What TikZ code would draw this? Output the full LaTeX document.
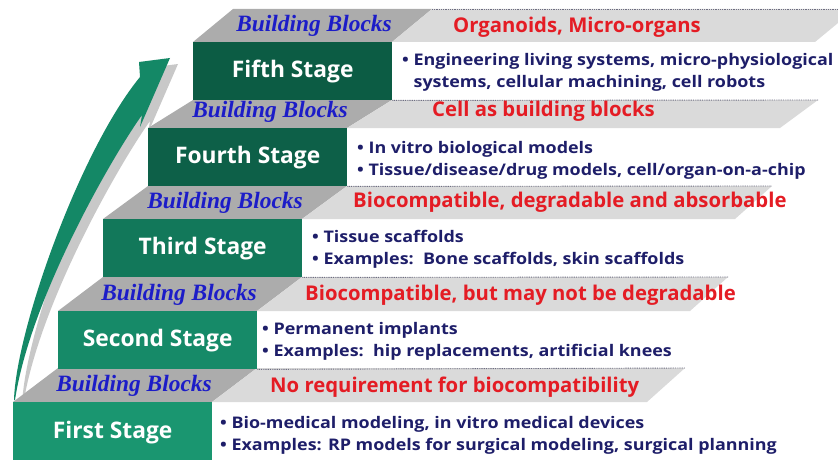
\documentclass[tikz,border=0pt]{standalone}
\usepackage{fontspec}
\setmainfont{Open Sans}
\newfontfamily\widefont[FakeStretch=1.12]{Open Sans}
\newfontfamily\blockfont{Liberation Serif}
\begin{document}
\begin{tikzpicture}[x=1pt,y=-1pt,
  stagebox/.style={minimum width=199pt,minimum height=58pt,inner sep=0pt,anchor=north west,
    text=white,font=\bfseries\fontsize{22.8}{22.8}\selectfont},
  bbtext/.style={text=bbblue,font=\blockfont\bfseries\itshape\fontsize{23.4}{23.4}\selectfont,inner sep=0pt},
  reqtext/.style={text=reqred,font=\bfseries\fontsize{20.3}{20.3}\selectfont,anchor=west,inner sep=0pt},
  bullets/.style={text=navy,font=\widefont\bfseries\fontsize{16}{22}\selectfont,anchor=west,align=left,inner sep=0pt},
  darkband/.style={fill=bandgrey},
  lightband/.style={fill=bandlight},
  dotline/.style={draw=dotgrey,line width=0.9pt,dash pattern=on 0.9pt off 0.9pt}
]
\definecolor{bbblue}{RGB}{28,28,200}
\definecolor{reqred}{RGB}{228,28,36}
\definecolor{navy}{RGB}{30,30,105}
\definecolor{bandgrey}{RGB}{172,172,172}
\definecolor{bandlight}{RGB}{218,218,218}
\definecolor{dotgrey}{RGB}{110,110,130}
\definecolor{gA}{RGB}{26,150,112}
\definecolor{gB}{RGB}{22,138,104}
\definecolor{gC}{RGB}{18,120,90}
\definecolor{gD}{RGB}{13,96,72}
\definecolor{gE}{RGB}{12,92,68}
\definecolor{arrowgreen}{RGB}{20,136,102}
\definecolor{shadowgrey}{RGB}{200,200,200}

\useasboundingbox (0,0) rectangle (838,460);
\clip (0,0) rectangle (838,460);

% curved progress arrow with its shadow
\begin{scope}[shift={(8,6)}]
\fill[shadowgrey] (14,400) .. controls (16,330) and (80,150) .. (140,77)
  -- (139,62) -- (170,58) -- (140,127) -- (142,115)
  .. controls (110,160) and (30,300) .. (15,400) -- cycle;
\end{scope}
\fill[arrowgreen] (14,400) .. controls (16,330) and (80,150) .. (140,77)
  -- (139,62) -- (170,58) -- (140,127) -- (142,115)
  .. controls (110,160) and (30,300) .. (15,400) -- cycle;

% grey steps: dark part under the building blocks, light part under the requirement
\fill[darkband]  (13,402) -- (212,402) -- (257,368) -- (58,368) -- cycle;
\fill[lightband] (212,402) -- (647,402) -- (685,368) -- (257,368) -- cycle;
\fill[darkband]  (58,311) -- (257,311) -- (302,277) -- (103,277) -- cycle;
\fill[lightband] (257,311) -- (690,311) -- (728,277) -- (302,277) -- cycle;
\fill[darkband]  (103,219) -- (302,219) -- (347,186) -- (148,186) -- cycle;
\fill[lightband] (302,219) -- (735,219) -- (772,186) -- (347,186) -- cycle;
\fill[darkband]  (148,128) -- (347,128) -- (392,100) -- (193,100) -- cycle;
\fill[lightband] (347,128) -- (780,128) -- (818,100) -- (392,100) -- cycle;
\fill[darkband]  (193,42) -- (392,42) -- (432,9) -- (233,9) -- cycle;
\fill[lightband] (392,42) -- (815,42) -- (855,9) -- (432,9) -- cycle;

% stage boxes
\node[stagebox,fill=gA,minimum height=60pt] (s1) at (13,402) {First Stage};
\node[stagebox,fill=gB] (s2) at (58,311) {Second Stage};
\node[stagebox,fill=gC] (s3) at (103,219) {Third Stage};
\node[stagebox,fill=gD] (s4) at (148,128) {Fourth Stage};
\node[stagebox,fill=gE] (s5) at (193,42) {Fifth Stage};

% dotted rules along the top of each light step
\path[dotline] (s2.south east) -- (685,368);
\path[dotline] (s3.south east) -- (728,277);
\path[dotline] (s4.south east) -- (772,186);
\path[dotline] (s5.south east) -- (818,100);
\path[dotline] (432,9.5) -- (838,9.5);

% building blocks labels
\node[bbtext] (b1) at (134,386) {Building Blocks};
\node[bbtext] (b2) at (179,295) {Building Blocks};
\node[bbtext] (b3) at (225,203) {Building Blocks};
\node[bbtext] (b4) at (270,112) {Building Blocks};
\node[bbtext] (b5) at (314,26) {Building Blocks};

% requirements
\node[reqtext] (r1) at (270,387) {No requirement for biocompatibility};
\node[reqtext] (r2) at (305,295) {Biocompatible, but may not be degradable};
\node[reqtext] (r3) at (353,202) {Biocompatible, degradable and absorbable};
\node[reqtext] (r4) at (432,111) {Cell as building blocks};
\node[reqtext] (r5) at (453,27) {Organoids, Micro-organs};

% applications
\node[bullets] (a1) at (220,435) {• Bio-medical modeling, in vitro medical devices\\• Examples: RP models for surgical modeling, surgical planning};
\node[bullets] (a2) at (262,341) {• Permanent implants\\• Examples:\ \ hip replacements, artificial knees};
\node[bullets] (a3) at (312,249) {• Tissue scaffolds\\• Examples:\ \ Bone scaffolds, skin scaffolds};
\node[bullets] (a4) at (357,160) {• In vitro biological models\\• Tissue/disease/drug models, cell/organ-on-a-chip};
\node[bullets] (a5) at (402,72) {• Engineering living systems, micro-physiological\\\phantom{• }systems, cellular machining, cell robots};
\end{tikzpicture}
\end{document}
